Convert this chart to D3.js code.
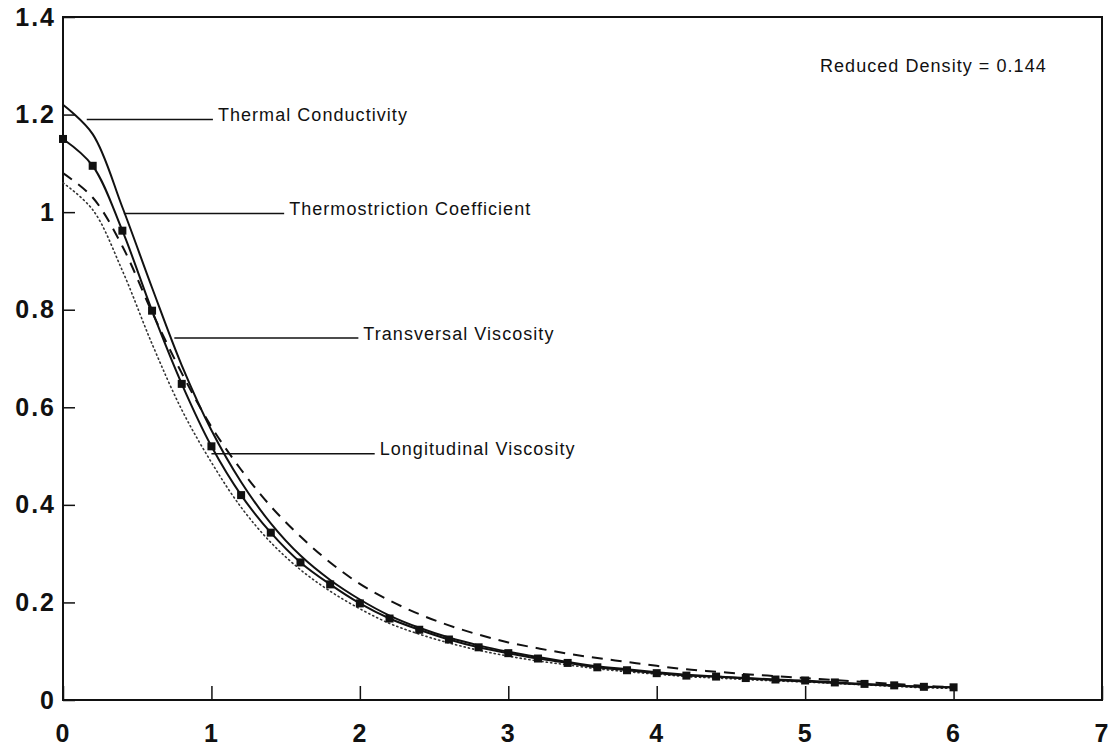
<!DOCTYPE html>
<html>
<head>
<meta charset="utf-8">
<script src="https://cdn.jsdelivr.net/npm/d3@7"></script>
<style>
  body { margin: 0; background: #fff; }
  text { font-family: "Liberation Sans", Arial, sans-serif; fill: #111; }
  .tick-label { font-weight: bold; font-size: 25px; letter-spacing: 2px; }
  .note { font-size: 18px; letter-spacing: 1.05px; }
</style>
</head>
<body>
<div id="chart"></div>
<script>
// chart values
var xs = [0, 0.2, 0.4, 0.6, 0.8, 1.0, 1.2, 1.4, 1.6, 1.8, 2.0, 2.2, 2.4, 2.6, 2.8, 3.0,
          3.2, 3.4, 3.6, 3.8, 4.0, 4.2, 4.4, 4.6, 4.8, 5.0, 5.2, 5.4, 5.6, 5.8, 6.0];

var thermalConductivity = [1.22, 1.16, 1.01, 0.845, 0.686, 0.553, 0.447, 0.362, 0.296, 0.246, 0.206,
  0.173, 0.148, 0.128, 0.112, 0.099, 0.088, 0.078, 0.069, 0.063, 0.057, 0.052, 0.048, 0.044, 0.041,
  0.038, 0.035, 0.032, 0.029, 0.027, 0.026];

var thermostriction = [1.15, 1.095, 0.962, 0.798, 0.648, 0.52, 0.42, 0.343, 0.282, 0.237, 0.198,
  0.167, 0.144, 0.124, 0.108, 0.096, 0.085, 0.076, 0.067, 0.061, 0.055, 0.05, 0.048, 0.045, 0.042,
  0.04, 0.036, 0.033, 0.03, 0.027, 0.026];

var transversal = [1.08, 1.03, 0.93, 0.795, 0.67, 0.56, 0.472, 0.397, 0.335, 0.282, 0.238,
  0.204, 0.176, 0.153, 0.134, 0.118, 0.106, 0.095, 0.086, 0.078, 0.07, 0.063, 0.058, 0.053, 0.049,
  0.045, 0.041, 0.037, 0.033, 0.029, 0.026];

var longitudinal = [1.06, 1.005, 0.88, 0.73, 0.595, 0.487, 0.395, 0.323, 0.267, 0.223, 0.187,
  0.157, 0.135, 0.117, 0.102, 0.09, 0.08, 0.072, 0.064, 0.058, 0.053, 0.048, 0.045, 0.042, 0.039,
  0.037, 0.034, 0.031, 0.028, 0.025, 0.024];

var xTicks = [0, 1, 2, 3, 4, 5, 6, 7];
var yTicks = [0, 0.2, 0.4, 0.6, 0.8, 1, 1.2, 1.4];
var yTickLabels = ["0", "0.2", "0.4", "0.6", "0.8", "1", "1.2", "1.4"];

// labels with leader lines (data units)
var labelNames = ["Thermal Conductivity", "Thermostriction Coefficient", "Transversal Viscosity", "Longitudinal Viscosity"];
var labelLeaderFrom = [0.16, 0.41, 0.75, 1.0];
var labelLeaderTo = [1.01, 1.49, 1.99, 2.1];
var labelLevel = [1.19, 0.997, 0.742, 0.505];
var densityNote = "Reduced Density = 0.144";

var svgWidth = 1110, svgHeight = 753;
var margin = { top: 17, right: 8, bottom: 53, left: 63 };
var w = svgWidth - margin.left - margin.right;
var h = svgHeight - margin.top - margin.bottom;

var svg = d3.select("#chart").append("svg")
    .attr("width", svgWidth)
    .attr("height", svgHeight);

var chart = svg.append("g")
    .attr("transform", "translate(" + margin.left + "," + margin.top + ")");

var xScale = d3.scaleLinear().domain([0, 7]).range([0, w]);
var yScale = d3.scaleLinear().domain([0, 1.4]).range([h, 0]);

// frame
chart.append("rect")
    .attr("width", w).attr("height", h)
    .attr("fill", "none").attr("stroke", "#111").attr("stroke-width", 2);

// x axis, ticks pointing inward
var xAxis = d3.axisBottom(xScale).tickValues(xTicks).tickSize(-14).tickPadding(24).tickFormat(d3.format("d"));
var gx = chart.append("g").attr("transform", "translate(0," + h + ")").call(xAxis);
gx.select(".domain").remove();
gx.selectAll("line").attr("stroke", "#111").attr("stroke-width", 1.5);
gx.selectAll("text").attr("class", "tick-label").attr("fill", "#111").attr("font-family", null).attr("font-size", null);

var yAxis = d3.axisLeft(yScale).tickValues(yTicks).tickSize(-12).tickPadding(7)
    .tickFormat(function (d, i) { return yTickLabels[i]; });
var gy = chart.append("g").call(yAxis);
gy.select(".domain").remove();
gy.selectAll("line").attr("stroke", "#111").attr("stroke-width", 1.5);
gy.selectAll("text").attr("class", "tick-label").attr("fill", "#111").attr("font-family", null).attr("font-size", null);

var line = d3.line()
    .x(function (d) { return xScale(d[0]); })
    .y(function (d) { return yScale(d[1]); })
    .curve(d3.curveCatmullRom.alpha(0.5));

function pairs(ys) { return xs.map(function (x, i) { return [x, ys[i]]; }); }

// dotted
chart.append("path").datum(pairs(longitudinal))
    .attr("d", line).attr("fill", "none")
    .attr("stroke", "#333").attr("stroke-width", 1.6)
    .attr("stroke-dasharray", "1.2,3.2").attr("stroke-linecap", "round");

// dashed
chart.append("path").datum(pairs(transversal))
    .attr("d", line).attr("fill", "none")
    .attr("stroke", "#111").attr("stroke-width", 2)
    .attr("stroke-dasharray", "11,8");

// solid
chart.append("path").datum(pairs(thermalConductivity))
    .attr("d", line).attr("fill", "none")
    .attr("stroke", "#111").attr("stroke-width", 2);

// solid with squares
chart.append("path").datum(pairs(thermostriction))
    .attr("d", line).attr("fill", "none")
    .attr("stroke", "#111").attr("stroke-width", 2);

chart.selectAll(".marker")
    .data(pairs(thermostriction))
    .enter().append("rect")
    .attr("class", "marker")
    .attr("x", function (d) { return xScale(d[0]) - 4; })
    .attr("y", function (d) { return yScale(d[1]) - 4; })
    .attr("width", 8).attr("height", 8)
    .attr("fill", "#111");

// leader lines and names
labelNames.forEach(function (name, i) {
    chart.append("line")
        .attr("x1", xScale(labelLeaderFrom[i])).attr("x2", xScale(labelLeaderTo[i]))
        .attr("y1", yScale(labelLevel[i])).attr("y2", yScale(labelLevel[i]))
        .attr("stroke", "#111").attr("stroke-width", 1.5);
    chart.append("text")
        .attr("class", "note")
        .attr("x", xScale(labelLeaderTo[i]) + 5)
        .attr("y", yScale(labelLevel[i]))
        .attr("dy", "0.1em")
        .text(name);
});

chart.append("text")
    .attr("class", "note")
    .attr("x", xScale(5.1))
    .attr("y", yScale(1.3))
    .attr("dy", "0.35em")
    .text(densityNote);
</script>
</body>
</html>
